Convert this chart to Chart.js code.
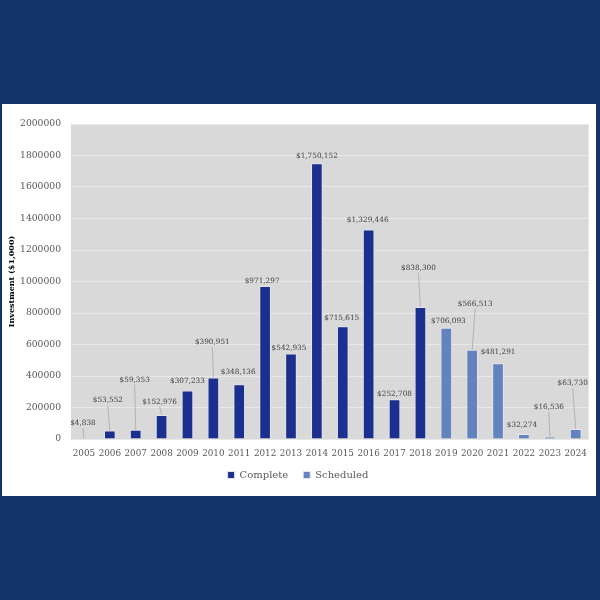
<!DOCTYPE html>
<html>
<head>
<meta charset="utf-8">
<script src="https://cdn.jsdelivr.net/npm/chart.js@4.4.1/dist/chart.umd.min.js"></script>
<style>
  html, body { margin: 0; padding: 0; background: #13356b; width: 600px; height: 600px; overflow: hidden; }
  #panel { position: absolute; left: 2px; top: 104px; width: 594px; height: 392px; background: #ffffff; }
</style>
</head>
<body>
<div id="panel"><canvas id="chart-invest" width="594" height="392"></canvas></div>
<script>
let anos = ["2005","2006","2007","2008","2009","2010","2011","2012","2013","2014","2015","2016","2017","2018","2019","2020","2021","2022","2023","2024"]
let completos = [4838, 53552, 59353, 152976, 307233, 390951, 348136, 971297, 542935, 1750152, 715615, 1329446, 252708, 838300, null, null, null, null, null, null]
let agendados = [null, null, null, null, null, null, null, null, null, null, null, null, null, null, 706093, 566513, 481291, 32274, 16536, 63730]
let cores = ['#1b2f8e', '#6283bd']

// deslocamento dos rotulos (dx, dy acima do topo da barra), em px
let rotulo_dx = [-1, -2, -1, -2, 0, -1, -1, -3, -2, 0, -1, -1, 0, -2, 2, 3, 0, -2, -1, -3]
let rotulo_dy = [15, 30, 50, 13, 10, 35, 12, 5, 5, 7, 8, 10, 5, 39, 7, 46, 11, 9, 29, 46]

const fundoPlot = {
  id: 'fundoPlot',
  beforeDraw(chart) {
    const a = chart.chartArea, c = chart.ctx
    c.save()
    c.fillStyle = '#d9d9d9'
    c.fillRect(a.left, a.top, a.right - a.left, a.bottom - a.top)
    c.restore()
  }
}

// sobe a legenda para ficar logo abaixo dos anos
const legendaAcima = {
  id: 'legendaAcima',
  afterLayout(chart) {
    chart.legend.top -= 8
    chart.legend.bottom -= 8
  }
}

const rotulos = {
  id: 'rotulos',
  afterDatasetsDraw(chart) {
    const c = chart.ctx
    c.save()
    c.font = '7.3px "DejaVu Serif"'
    c.textAlign = 'center'
    c.textBaseline = 'middle'
    chart.data.datasets.forEach((ds, di) => {
      const meta = chart.getDatasetMeta(di)
      meta.data.forEach((el, i) => {
        const v = ds.data[i]
        if (v === null || v === undefined) return
        const lx = el.x + rotulo_dx[i]
        const ly = el.y - rotulo_dy[i]
        if (rotulo_dy[i] > 12) {
          c.strokeStyle = '#b3b3b3'
          c.lineWidth = 1
          c.beginPath()
          c.moveTo(lx, ly + 5)
          c.lineTo(el.x, el.y)
          c.stroke()
        }
        c.fillStyle = '#404040'
        c.fillText('$' + v.toLocaleString('en-US'), lx, ly)
      })
    })
    c.restore()
  }
}

var ctx = document.getElementById('chart-invest').getContext('2d')

var chart = new Chart(ctx, {
  type: 'bar',
  data: {
    labels: anos,
    datasets: [{
      label: 'Complete',
      data: completos,
      backgroundColor: (c) => (c.type === 'data' && c.dataIndex === 0) ? '#b3a9d1' : cores[0],
      borderColor: '#e4e4ee',
      borderWidth: 1,
      barPercentage: 0.45,
      categoryPercentage: 1
    }, {
      label: 'Scheduled',
      data: agendados,
      backgroundColor: cores[1],
      borderColor: '#e4e4ee',
      borderWidth: 1,
      barPercentage: 0.45,
      categoryPercentage: 1
    }]
  },
  options: {
    responsive: false,
    animation: false,
    layout: { padding: { left: 2, right: 4, top: 20, bottom: 0 } },
    scales: {
      x: {
        stacked: true,
        grid: { display: false, drawTicks: false },
        border: { display: false },
        ticks: { color: '#595959', font: { family: 'DejaVu Serif', size: 8.8 }, padding: 9, maxRotation: 0, autoSkip: false },
        afterFit: (s) => { s.height = 24 }
      },
      y: {
        stacked: true,
        min: 0,
        max: 2000000,
        grid: { color: '#e8e8e8', lineWidth: 1, drawTicks: false },
        border: { display: false },
        ticks: { stepSize: 200000, color: '#595959', font: { family: 'DejaVu Serif', size: 9.2 }, padding: 10, callback: (v) => String(v) },
        title: { display: true, text: 'Investment ($1,000)', color: '#000000', font: { family: 'DejaVu Serif', size: 8, weight: 'bold' }, padding: { top: 3, bottom: 0 } },
        afterFit: (s) => { s.width = 67 }
      }
    },
    plugins: {
      legend: {
        position: 'bottom',
        maxHeight: 33,
        labels: {
          boxWidth: 7, boxHeight: 7, padding: 15, color: '#595959', font: { family: 'DejaVu Serif', size: 10 },
          generateLabels: (ch) => {
            const itens = Chart.defaults.plugins.legend.labels.generateLabels(ch)
            itens.forEach((it, k) => { it.fillStyle = cores[k]; it.strokeStyle = '#e4e4ee' })
            return itens
          }
        }
      },
      tooltip: { enabled: false }
    }
  },
  plugins: [fundoPlot, legendaAcima, rotulos]
})
</script>
</body>
</html>
